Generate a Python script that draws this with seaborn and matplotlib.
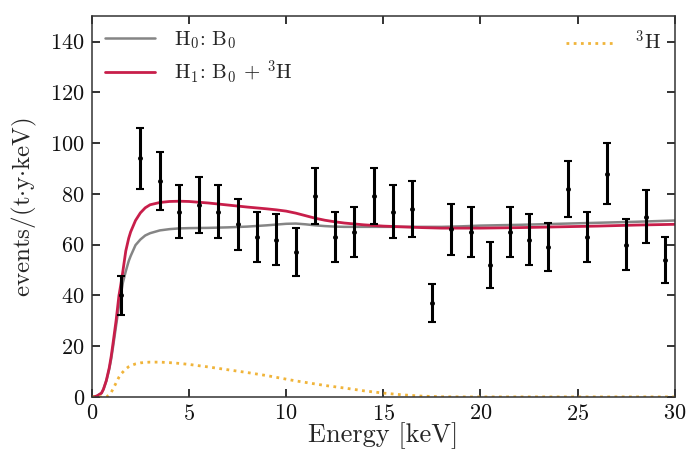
import numpy as np
import pandas as pd
import matplotlib
matplotlib.use("Agg")
import matplotlib.pyplot as plt
import seaborn as sns

# ---- data ----
bin_centers = [1.5, 2.5, 3.5, 4.5, 5.5, 6.5, 7.5, 8.5, 9.5, 10.5, 11.5, 12.5, 13.5, 14.5,
               15.5, 16.5, 17.5, 18.5, 19.5, 20.5, 21.5, 22.5, 23.5, 24.5, 25.5, 26.5,
               27.5, 28.5, 29.5]
rates = [40, 94, 85, 73, 75.5, 73, 68, 63, 62, 57, 79, 63, 65, 79,
         73, 74, 37, 66, 65, 52, 65, 62, 59, 82, 63, 88,
         60, 71, 54]
rate_err = [7.7, 12, 11.5, 10.5, 11, 10.5, 10, 10, 10, 9.5, 11, 10, 10, 11,
            10.5, 11, 7.6, 10, 10, 9, 10, 10, 9.5, 11, 10, 12,
            10, 10.5, 9]

curve_energy = [0, 0.25, 0.5, 0.6, 0.75, 0.9, 1.0, 1.1, 1.25, 1.4, 1.5, 1.6, 1.75, 1.9,
                2.0, 2.25, 2.5, 2.75, 3.0, 3.5, 4, 4.5, 5, 6, 7, 8, 9, 9.5, 10, 10.5,
                11, 11.5, 12, 12.5, 13, 14, 15, 16, 17, 18, 19, 20, 22, 24, 26, 28, 30]
h0_b0 = [0, 0.3, 1.5, 3, 6.3, 11, 15, 20, 28, 36, 40.5, 45, 49.5, 53.5,
         55.5, 59.8, 62, 63.6, 64.5, 65.6, 66.1, 66.4, 66.5, 66.6, 66.8, 67.1, 67.6, 67.9, 68.2, 68.3,
         68.0, 67.6, 67.3, 67.1, 67.0, 67.0, 67.0, 67.0, 67.0, 67.0, 67.2, 67.5, 67.8, 68.2, 68.6, 69.0, 69.5]
h1_b0_h3 = [0, 0.3, 1.5, 3, 6.5, 11.5, 16, 21.5, 30, 40, 44.5, 49.5, 57.5, 62.5,
            65, 69.5, 72.5, 74.5, 75.7, 76.6, 77, 77.1, 77, 76.4, 75.6, 74.8, 74.1, 73.7, 73.2, 72.4,
            71.4, 70.4, 69.6, 69.0, 68.5, 67.8, 67.3, 67.0, 66.7, 66.5, 66.5, 66.5, 66.7, 67.0, 67.3, 67.7, 68.0]
tritium = [0, 0, 0, 0, 0, 0.8, 1.8, 3.2, 5.5, 7.8, 9, 9.8, 11, 11.9,
           12.3, 13.0, 13.4, 13.6, 13.7, 13.7, 13.5, 13.2, 12.8, 11.8, 10.7, 9.6, 8.4, 7.7, 7.0, 6.3,
           5.7, 5.1, 4.5, 4.0, 3.5, 2.4, 1.5, 0.8, 0.3, 0.05, 0, 0, 0, 0, 0, 0, 0]

labels = [r"H$_0$: B$_0$", r"H$_1$: B$_0$ + $^3$H", r"$^3$H"]
x_ticks = [0, 5, 10, 15, 20, 25, 30]
y_ticks = [0, 20, 40, 60, 80, 100, 120, 140]

# ---- style ----
sns.set_style("ticks")
plt.rcParams["font.family"] = ["cmr10", "DejaVu Serif"]
plt.rcParams["mathtext.fontset"] = "cm"
plt.rcParams["axes.formatter.use_mathtext"] = True
plt.rcParams["axes.unicode_minus"] = False

fig = plt.figure(figsize=(6.9, 4.5), dpi=100)
ax = fig.add_axes([0.133, 0.118, 0.845, 0.846])

df = pd.DataFrame({"E": curve_energy, "h0": h0_b0, "h1": h1_b0_h3, "t": tritium})

sns.lineplot(data=df, x="E", y="h0", ax=ax, color="#858585", lw=1.8, label=labels[0])
sns.lineplot(data=df, x="E", y="h1", ax=ax, color="#c81e4a", lw=2.0, label=labels[1])
sns.lineplot(data=df, x="E", y="t", ax=ax, color="#f0b43a", lw=2.0, label=labels[2],
             linestyle=(0, (1, 1.6)))

ax.errorbar(bin_centers, rates, yerr=rate_err, fmt="o", ms=2.5, color="black",
            ecolor="black", elinewidth=2.2, capsize=3, capthick=1.5, zorder=5)

ax.set_xlim(0, 30)
ax.set_ylim(0, 150)
ax.set_xticks(x_ticks)
ax.set_yticks(y_ticks)
ax.tick_params(direction="in", top=True, right=True, length=6, width=1.2,
               labelsize=16, colors="#111111", pad=5)
for s in ax.spines.values():
    s.set_linewidth(1.1)
    s.set_color("#333333")
ax.set_xlabel("Energy [keV]", fontsize=19, labelpad=-1)
ax.set_ylabel(r"events/(t$\cdot$y$\cdot$keV)", fontsize=18, labelpad=8)

handles, labs = ax.get_legend_handles_labels()
leg1 = ax.legend(handles[:2], labs[:2], loc="upper left", frameon=False, fontsize=15,
                 handlelength=2.4, borderaxespad=0.25, labelspacing=0.35, handletextpad=0.9)
ax.add_artist(leg1)
ax.legend(handles[2:], labs[2:], loc="upper right", frameon=False, fontsize=15,
          handlelength=2.4, borderaxespad=0.25, handletextpad=0.9)

fig.savefig("out.png", dpi=100)
